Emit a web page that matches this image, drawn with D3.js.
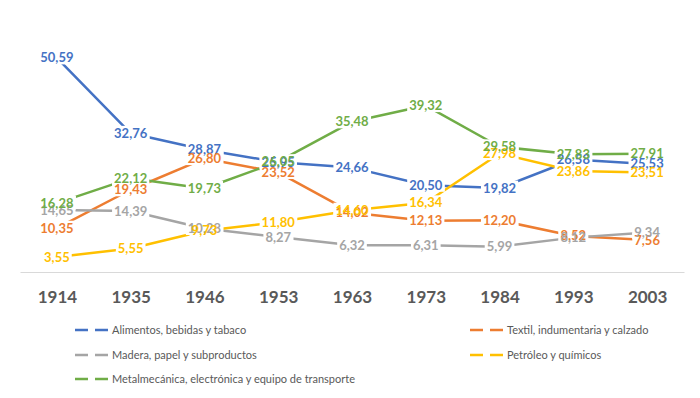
<!DOCTYPE html>
<head>
  <meta charset="utf-8">
  <script src="https://cdn.jsdelivr.net/npm/d3@7"></script>
  <title>Estructura industrial por rama</title>
  <style>
    body { margin: 0; background: #fff; }
    text { font-family: Lato, "Open Sans", sans-serif; }
  </style>
</head>
<body>
  <div id="chartDiv"></div>
  <script>

    var years = ["1914", "1935", "1946", "1953", "1963", "1973", "1984", "1993", "2003"];

    var alimentos = [50.59, 32.76, 28.87, 25.95, 24.66, 20.50, 19.82, 26.58, 25.53];
    var textil = [10.35, 19.43, 26.80, 23.52, 14.02, 12.13, 12.20, 8.52, 7.56];
    var madera = [14.65, 14.39, 10.28, 8.27, 6.32, 6.31, 5.99, 8.12, 9.34];
    var petroleo = [3.55, 5.55, 9.73, 11.80, 14.60, 16.34, 27.98, 23.86, 23.51];
    var metal = [16.28, 22.12, 19.73, 26.05, 35.48, 39.32, 29.58, 27.83, 27.91];

    var seriesNames = [
      "Alimentos, bebidas y tabaco",
      "Textil, indumentaria y calzado",
      "Madera, papel y subproductos",
      "Petróleo y químicos",
      "Metalmecánica, electrónica y equipo de transporte"
    ];
    var seriesColors = ["#4472C4", "#ED7D31", "#A5A5A5", "#FFC000", "#70AD47"];

    var series = [alimentos, textil, madera, petroleo, metal].map(function(vals, i) {
      return { name: seriesNames[i], color: seriesColors[i], values: vals };
    });

    var width = 700, height = 398;

    var svg = d3.select("#chartDiv").append("svg")
        .attr("width", width)
        .attr("height", height);

    var x = d3.scalePoint()
        .domain(years)
        .range([20, 684])
        .padding(0.5);

    var y = d3.scaleLinear()
        .domain([0, 60])
        .range([272, 18]);

    var fmt = function(v) { return d3.format(".2f")(v).replace(".", ","); };

    // x axis line and year labels
    var xAxis = svg.append("g")
        .attr("transform", "translate(0," + y(0) + ")")
        .call(d3.axisBottom(x).tickSize(0).tickPadding(25));
    xAxis.select(".domain").attr("stroke", "#d9d9d9").attr("stroke-width", 1);
    xAxis.selectAll("text")
        .attr("fill", "#595959")
        .style("font-size", "17px")
        .style("font-weight", "bold")
        .style("font-family", "Lato, 'Open Sans', sans-serif")
        .attr("dy", "0.35em")
        .attr("y", 25);

    var line = d3.line()
        .x(function(d, i) { return x(years[i]); })
        .y(function(d) { return y(d); });

    svg.append("g").selectAll("path")
        .data(series)
      .enter().append("path")
        .attr("d", function(s) { return line(s.values); })
        .attr("fill", "none")
        .attr("stroke", function(s) { return s.color; })
        .attr("stroke-width", 2.5)
        .attr("stroke-linejoin", "round");

    // data labels: white boxes first, then all texts on top
    var labels = [];
    series.forEach(function(s) {
      s.values.forEach(function(v, i) {
        labels.push({ color: s.color, x: x(years[i]), y: y(v), text: fmt(v) });
      });
    });

    var boxLayer = svg.append("g");
    var textLayer = svg.append("g");

    var texts = textLayer.selectAll("text")
        .data(labels)
      .enter().append("text")
        .attr("x", function(d) { return d.x; })
        .attr("y", function(d) { return d.y; })
        .attr("dy", "0.35em")
        .attr("text-anchor", "middle")
        .attr("fill", function(d) { return d.color; })
        .style("font-size", "13px")
        .style("font-weight", "bold")
        .text(function(d) { return d.text; });

    texts.each(function(d) {
      var b = this.getBBox();
      boxLayer.append("rect")
          .attr("x", b.x - 2)
          .attr("y", b.y + 1)
          .attr("width", b.width + 4)
          .attr("height", b.height - 2)
          .attr("fill", "#fff");
    });

    // legend
    var legendX = [75, 470];
    var legendY = [330, 355, 379];

    var legend = svg.append("g").selectAll("g")
        .data(series)
      .enter().append("g")
        .attr("transform", function(d, i) {
          return "translate(" + legendX[i % 2] + "," + legendY[Math.floor(i / 2)] + ")";
        });

    legend.append("line")
        .attr("x1", 0).attr("x2", 33)
        .attr("stroke", function(d) { return d.color; })
        .attr("stroke-width", 2.5)
        .attr("stroke-dasharray", "13,7");

    legend.append("text")
        .attr("x", 37)
        .attr("dy", "0.35em")
        .attr("fill", "#595959")
        .style("font-size", "11px")
        .text(function(d) { return d.name; });

  </script>
</body>
